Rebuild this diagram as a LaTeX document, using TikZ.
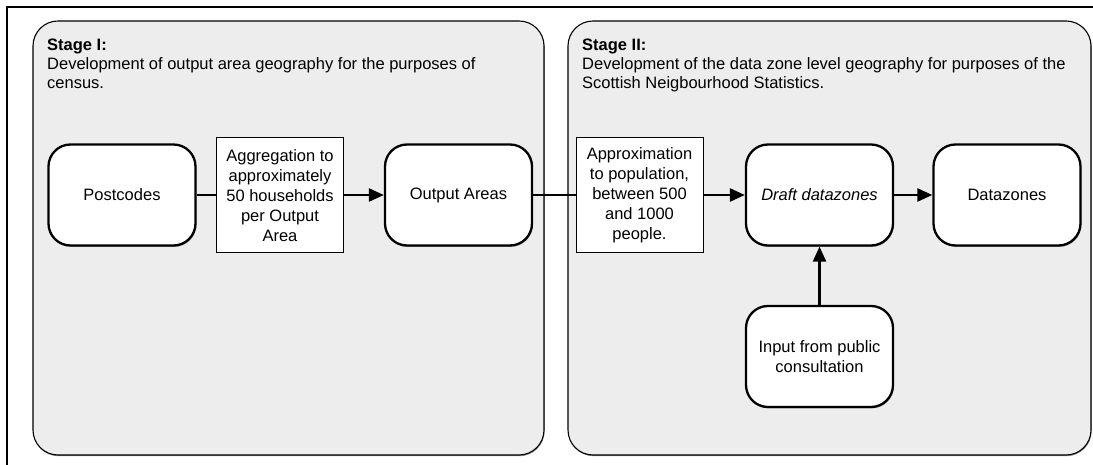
\documentclass[tikz,border=0pt]{standalone}
\usepackage{fontspec}
\setmainfont{Liberation Sans}
\usetikzlibrary{arrows.meta,shadows}

\definecolor{panelgrey}{HTML}{EDEDED}

\tikzset{
  txt/.style={font=\fontsize{16.5bp}{20bp}\selectfont},
  panel/.style={draw=black, line width=1.1bp, fill=panelgrey, rounded corners=25bp,
    inner sep=0pt, drop shadow={shadow xshift=0.6bp, shadow yshift=-1.2bp, opacity=0.45, fill=black}},
  stagebox/.style={txt, draw=black, line width=2.3bp, fill=white, rounded corners=22bp,
    minimum width=147bp, minimum height=101bp, inner sep=0pt, align=center,
    drop shadow={shadow xshift=0.8bp, shadow yshift=-1.4bp, opacity=0.35, fill=black}},
  notebox/.style={txt, draw=black, line width=1bp, fill=white, minimum width=127bp,
    minimum height=115bp, inner sep=0pt, align=center},
  heading/.style={font=\fontsize{16.5bp}{20bp}\selectfont\bfseries, anchor=base west, inner sep=0pt},
  desc/.style={font=\fontsize{16.5bp}{19bp}\selectfont, anchor=north west, align=left, inner sep=0pt},
  link/.style={line width=2.5bp},
  flow/.style={line width=2.5bp, -{Triangle[length=15bp, width=13bp]}},
  frame/.style={line width=1.8bp}
}

\begin{document}
\begin{tikzpicture}[x=1bp, y=-1bp]
  \useasboundingbox (0,0) rectangle (1093,465);

  % outer figure frame (runs off the page to the right and bottom)
  \coordinate (frameTR) at (1093,7);
  \coordinate (frameTL) at (7,7);
  \coordinate (frameBL) at (7,465);
  \draw[frame] (frameTR) -- (frameTL) -- (frameBL);

  % the two stage panels
  \node[panel, minimum width=511bp, minimum height=434bp] (panelA) at (288.5,238) {};
  \node[panel, minimum width=523bp, minimum height=434bp] (panelB) at (829.5,238) {};

  % panel headings
  \node[heading] (headA) at (47,51) {Stage I:};
  \node[desc] (descA) at (47,57) {Development of output area geography for the purposes of\\census.};
  \node[heading] (headB) at (582,51) {Stage II:};
  \node[desc] (descB) at (582,57) {Development of the data zone level geography for purposes of the\\Scottish Neigbourhood Statistics.};

  % process boxes
  \node[stagebox] (postcodes) at (122,195) {Postcodes};
  \node[notebox] (aggregate) at (280,195.5) {Aggregation to\\approximately\\50 households\\per Output\\Area};
  \node[stagebox] (outputareas) at (458.5,195) {Output Areas};
  \node[notebox] (approx) at (639.5,195.5) {Approximation\\to population,\\between 500\\and 1000\\people.};
  \node[stagebox] (draft) at (819.5,195) {\itshape Draft datazones};
  \node[stagebox] (datazones) at (1007,195) {Datazones};
  \node[stagebox] (consult) at (819.5,356.5) {Input from public\\consultation};

  % connectors
  \draw[link] (postcodes.east) -- (aggregate.west |- postcodes.east);
  \draw[flow] (aggregate.east |- outputareas.west) -- (outputareas.west);
  \draw[link] (outputareas.east) -- (approx.west |- outputareas.east);
  \draw[flow] (approx.east |- draft.west) -- (draft.west);
  \draw[flow] (draft.east) -- (datazones.west);
  \draw[flow] (consult.north) -- (draft.south);
\end{tikzpicture}
\end{document}
